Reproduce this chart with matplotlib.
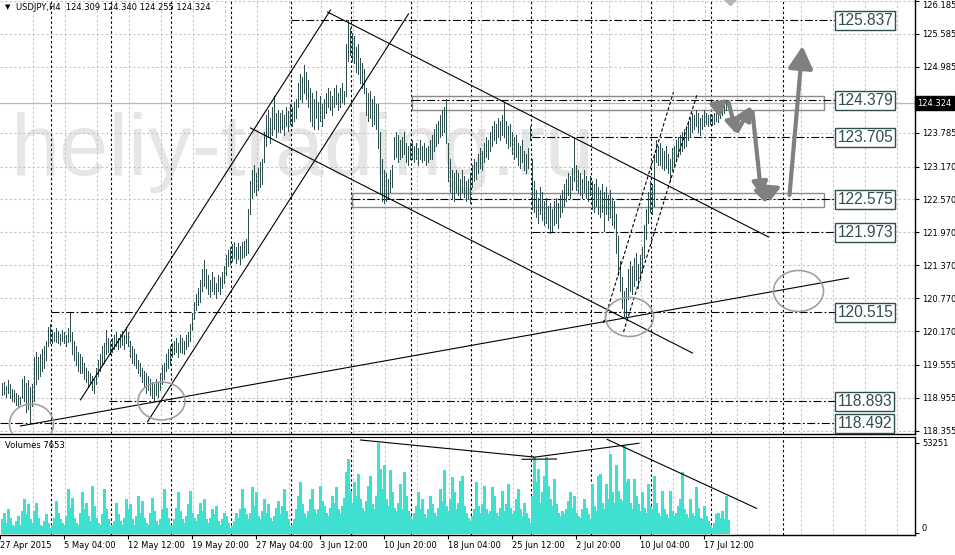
import matplotlib
matplotlib.use('Agg')
import matplotlib.pyplot as plt
from matplotlib.patches import Ellipse, Rectangle
from matplotlib.transforms import blended_transform_factory

# ---------------- data (H4 bars, weekly chunks) ----------------
h0 = [119.22,119.25,119.18,119.28,119.20,119.12,119.10,119.05,119.00,118.98,119.30,119.35,119.22,119.28,119.15,119.20,119.70,119.80,119.70,119.75,119.85,119.90,120.00,120.25,120.30]
l0 = [119.00,119.02,118.98,119.05,118.95,118.90,118.88,118.82,118.80,118.85,118.95,118.90,118.70,118.75,118.50,118.80,118.90,119.20,119.30,119.35,119.45,119.50,119.65,119.90,119.95]
h1 = [120.20,120.15,120.22,120.18,120.12,120.20,120.15,120.10,120.22,120.50,120.15,120.00,119.90,119.80,119.75,119.70,119.60,119.50,119.45,119.40,119.35,119.30,119.50,119.65,119.75,119.90,119.95,120.20,120.05,120.00]
l1 = [119.95,120.00,119.98,119.95,119.92,120.00,119.95,119.90,119.98,120.00,119.75,119.65,119.55,119.45,119.40,119.40,119.30,119.25,119.15,119.20,119.10,119.05,119.20,119.35,119.45,119.55,119.60,119.75,119.80,119.75]
h2 = [120.05,120.10,120.15,120.05,120.12,120.18,120.10,120.25,120.15,120.00,119.90,119.85,119.75,119.65,119.60,119.50,119.45,119.40,119.35,119.30,119.25,119.20,119.30,119.25,119.40,119.55,119.60,119.75,119.85,119.90]
l2 = [119.80,119.85,119.90,119.85,119.88,119.92,119.85,119.95,119.90,119.70,119.60,119.55,119.50,119.40,119.35,119.25,119.15,119.05,119.10,119.00,118.95,118.90,119.00,118.98,119.10,119.20,119.30,119.45,119.50,119.55]
h3 = [119.95,120.00,120.05,119.95,120.10,120.05,120.00,120.10,120.15,120.30,120.50,120.70,120.85,120.95,121.10,121.30,121.47,121.30,121.20,121.10,121.25,121.15,121.05,121.20,121.15,121.25,121.35,121.55,121.65,121.70]
l3 = [119.70,119.75,119.80,119.70,119.80,119.78,119.75,119.85,119.90,120.00,120.20,120.40,120.55,120.65,120.70,120.90,121.00,120.95,120.85,120.80,120.90,120.85,120.78,120.90,120.85,120.95,121.05,121.20,121.35,121.40]
h4 = [121.75,121.80,121.70,121.78,121.72,121.80,121.82,121.85,122.40,122.90,123.10,123.20,123.05,123.15,123.25,123.30,123.80,124.10,124.20,124.05,124.25,124.45,124.15,124.20,124.15,124.20,124.10,124.25,124.18,124.30]
l4 = [121.45,121.50,121.42,121.48,121.40,121.50,121.52,121.55,121.60,122.30,122.60,122.70,122.65,122.75,122.80,122.85,123.25,123.55,123.70,123.60,123.75,123.85,123.70,123.80,123.80,123.85,123.75,123.90,123.82,123.95]
h5 = [124.25,124.35,124.40,124.70,124.85,124.80,125.02,124.90,124.75,124.60,124.50,124.40,124.55,124.35,124.45,124.30,124.40,124.50,124.60,124.55,124.45,124.60,124.65,124.50,124.60,124.70,124.55,125.40,125.84,125.70]
l5 = [123.90,124.00,124.05,124.25,124.40,124.35,124.50,124.40,124.25,124.00,123.90,123.85,124.05,123.85,124.00,123.90,124.05,124.15,124.25,124.20,124.10,124.25,124.30,124.20,124.25,124.35,124.30,124.45,125.10,125.20]
h6 = [125.60,125.55,125.35,125.40,125.15,125.05,124.95,124.60,124.50,124.55,124.40,124.45,124.30,124.30,123.80,123.30,123.10,123.05,122.95,123.10,123.20,123.70,123.80,123.75,123.65,123.70,123.80,123.60,123.55,123.60]
l6 = [125.10,125.05,124.90,124.85,124.70,124.60,124.50,124.10,124.00,124.05,123.90,123.95,123.85,123.50,122.70,122.55,122.50,122.55,122.60,122.70,122.80,123.30,123.35,123.25,123.30,123.35,123.40,123.25,123.20,123.30]
h7 = [123.65,123.55,123.60,123.50,123.65,123.55,123.60,123.50,123.55,123.65,123.75,123.85,123.95,124.00,124.10,124.20,124.25,124.40,123.60,123.30,123.10,123.05,123.10,123.05,122.95,123.10,123.00,122.90,122.95,123.05]
l7 = [123.30,123.25,123.30,123.20,123.30,123.25,123.28,123.20,123.25,123.30,123.30,123.45,123.55,123.60,123.70,123.75,123.80,123.60,122.90,122.70,122.60,122.55,122.70,122.65,122.60,122.70,122.62,122.55,122.58,122.50]
h8 = [123.20,123.30,123.25,123.40,123.50,123.45,123.60,123.70,123.65,123.80,123.90,124.00,123.95,124.05,124.00,124.10,124.35,124.00,123.90,123.95,123.80,123.70,123.75,123.60,123.55,123.65,123.45,123.40,123.50,123.90]
l8 = [122.80,122.90,122.95,123.05,123.15,123.10,123.25,123.35,123.30,123.45,123.55,123.65,123.60,123.70,123.65,123.75,123.70,123.60,123.50,123.55,123.40,123.30,123.35,123.20,123.15,123.25,123.10,123.05,123.15,123.65]
h9 = [123.30,122.90,122.75,122.60,122.80,122.70,122.55,122.60,122.45,122.50,122.40,122.55,122.60,122.50,122.65,122.75,122.85,122.95,123.05,123.00,123.15,123.70,123.20,123.10,123.05,122.95,123.10,123.00,122.90,123.00]
l9 = [122.40,122.35,122.25,122.15,122.30,122.20,122.10,122.15,122.05,121.95,122.00,122.10,122.15,122.05,122.25,122.35,122.45,122.55,122.65,122.60,122.75,122.90,122.75,122.70,122.65,122.60,122.70,122.60,122.55,122.65]
h10 = [122.90,122.85,122.95,122.80,122.75,122.85,122.70,122.80,122.65,122.75,122.60,122.55,122.30,121.90,121.45,121.15,120.90,120.95,121.30,121.45,121.35,121.50,121.60,121.40,121.55,121.70,122.10,122.40,122.70,122.90]
l10 = [122.40,122.35,122.45,122.30,122.25,122.35,122.00,122.30,122.20,122.25,122.10,122.05,121.60,121.20,120.90,120.60,120.45,120.42,120.75,120.90,120.85,121.00,121.10,120.95,121.10,121.25,121.50,121.85,122.15,122.35]
h11 = [122.85,123.40,123.65,123.55,123.60,123.50,123.45,123.55,123.40,123.30,123.50,123.55,123.65,123.70,123.75,123.80,123.85,123.90,124.00,124.05,124.15,124.10,124.20,124.15,124.05,124.10,124.20,124.15,124.10,124.12]
l11 = [122.30,122.45,123.25,123.20,123.20,123.15,123.10,123.15,123.05,122.90,123.10,123.20,123.30,123.35,123.40,123.45,123.50,123.55,123.65,123.70,123.80,123.85,123.90,123.80,123.75,123.85,123.90,123.95,123.90,123.95]
h12 = [124.10,124.15,124.20,124.12,124.25,124.30,124.35,124.38,124.34]
l12 = [123.92,123.95,124.00,123.98,124.05,124.10,124.15,124.20,124.255]

# volumes in thousands
v0 = [8,12,6,14,9,5,4,7,10,5,13,20,11,17,8,6,13,18,9,5,4,7,11,6,3]
v1 = [5,9,19,12,8,6,5,10,26,15,21,9,6,5,12,24,14,18,10,7,28,16,9,6,5,11,26,14,8,4]
v2 = [5,7,18,11,7,5,9,20,14,17,8,5,10,22,12,19,9,6,5,12,21,13,7,5,8,14,26,15,9,5]
v3 = [5,8,15,24,13,8,6,10,17,25,12,9,7,11,18,13,20,8,6,9,14,11,16,7,5,8,12,10,6,3]
v4 = [4,7,12,9,14,26,15,11,8,12,27,16,24,10,8,13,20,12,17,9,7,10,15,19,11,16,26,13,8,4]
v5 = [5,8,14,22,30,17,12,9,13,20,26,14,11,14,28,19,16,12,10,15,22,18,27,14,11,16,21,36,44,25]
v6 = [18,30,22,35,20,15,13,19,28,34,17,14,22,53.251,38,26,40,20,16,37,24,15,13,18,29,14,36,22,13,10]
v7 = [8,12,16,24,14,20,11,9,14,22,17,12,10,15,26,19,37,16,13,20,33,24,14,18,31,34,16,12,9,7]
v8 = [10,14,30,16,12,17,28,14,11,13,27,22,12,10,15,25,13,17,29,15,11,13,20,26,14,10,18,12,9,6]
v9 = [22,45,30,38,18,24,34,45,28,20,16,32,17,12,10,13,11,14,19,24,15,22,12,10,9,14,20,15,11,8]
v10 = [29,16,13,34,35,18,14,29,20,47,24,18,40,25,20,19,52.1,30,32,18,14,32,22,17,13,24,15,12,29,16]
v11 = [14,34,18,12,10,25,14,11,9,25,13,10,12,16,20,36,14,11,9,20,12,10,27,15,9,8,16,10,7,5]
v12 = [3,6,11,12,9,13,8,22,7.653]

date_labels = ['27 Apr 2015', '5 May 04:00', '12 May 12:00', '19 May 20:00', '27 May 04:00',
               '3 Jun 12:00', '10 Jun 20:00', '18 Jun 04:00', '25 Jun 12:00', '2 Jul 20:00',
               '10 Jul 04:00', '17 Jul 12:00']
price_ticks = [126.185, 125.585, 124.985, 123.785, 123.170, 122.570, 121.970, 121.370,
               120.770, 120.170, 119.555, 118.955, 118.355]
levels = [125.837, 124.379, 123.705, 122.575, 121.973, 120.515, 118.893, 118.492]
level_start = [144.5, 205, 265, 175, 265, 24.5, 53.5, -0.75]
current_price = 124.324
header = 'USDJPY,H4  124.309 124.340 124.255 124.324'

trend_lines = [((39.5, 118.92), (164.5, 126.02)), ((73, 118.52), (203.5, 125.95)),
               ((163, 125.985), (383.5, 121.886)), ((124.5, 123.872), (345.5, 119.773)),
               ((9.5, 118.444), (423.5, 121.139))]
dashed_lines = [((301, 120.32), (336, 124.527)), ((311, 120.156), (348, 124.509))]
vol_lines = [((179.5, 55.03), (266, 44.97)), ((260.3, 43.6), (277.5, 43.8)),
             ((266, 44.8), (318.7, 53.1)), ((302.8, 55.4), (377.5, 14.6))]
ellipses = [(15, 118.48, 22, 0.729), (80, 118.899, 23.5, 0.692),
            (314, 120.429, 24, 0.710), (398.5, 120.903, 25, 0.747)]
rects = [(205, 411, 124.20, 124.455), (175, 411, 122.433, 122.688)]
arrows = [((357.5, 124.236), (363, 124.40)), ((363.5, 124.345), (367.5, 123.762)),
          ((368, 123.817), (375, 124.272)), ((375.5, 124.163), (380, 122.633)),
          ((380.5, 122.688), (385, 122.852)), ((385.5, 122.743), (390, 122.816)),
          ((394, 122.651), (400.5, 125.365))]

high = h0 + h1 + h2 + h3 + h4 + h5 + h6 + h7 + h8 + h9 + h10 + h11 + h12
low = l0 + l1 + l2 + l3 + l4 + l5 + l6 + l7 + l8 + l9 + l10 + l11 + l12
volume = v0 + v1 + v2 + v3 + v4 + v5 + v6 + v7 + v8 + v9 + v10 + v11 + v12
idx = list(range(len(high)))

# ---------------- figure ----------------
W, H = 955, 555
fig = plt.figure(figsize=(W / 100, H / 100), dpi=100)
fig.patch.set_facecolor('white')
ax = fig.add_axes([0, (H - 434) / H, 915 / W, 434 / H])
axv = fig.add_axes([0, 20 / H, 915 / W, 98 / H])

XL = (-0.75, 456.75)
for a in (ax, axv):
    a.set_xlim(*XL)
    for s in ('left', 'top'):
        a.spines[s].set_visible(False)
    a.spines['right'].set_linewidth(1)
    a.spines['bottom'].set_linewidth(1)
axv.spines['top'].set_visible(True)
ax.set_ylim(118.298, 126.203)
axv.set_ylim(-1.18, 56.80)

bar_col = '#2F4F4F'
grid_col = '#c4c4c4'
gdash = (0, (2.2, 2.2))
ddash = (0, (2.2, 2.2))
dashdot = (0, (7.2, 2.2, 1.6, 2.2))

# watermark
ax.text(11 / 915, 1 - 175 / 434, 'heliy-trading.ru', transform=ax.transAxes,
        fontsize=63.5, family='Liberation Sans', color='#e6e6e6',
        ha='left', va='baseline', zorder=0.5)

# grids
grid_x = [16 * k - 0.5 for k in range(1, 29)]
sep_x = [24.5 + 30 * k for k in range(12)] + [390.5]
for a in (ax, axv):
    for gx in grid_x:
        a.axvline(gx, color=grid_col, lw=0.75, ls=gdash, zorder=1)
    for sx in sep_x:
        a.axvline(sx, color='black', lw=0.8, ls=ddash, zorder=1.5)
for p in price_ticks:
    ax.axhline(p, color=grid_col, lw=0.75, ls=gdash, zorder=1)

# current price line
ax.axhline(current_price, color='#b8b8b8', lw=0.9, zorder=1.2)

# rectangles
for x0, x1, y0, y1 in rects:
    ax.add_patch(Rectangle((x0, y0), x1 - x0, y1 - y0, fill=False,
                           ec='#8a8a8a', lw=1.0, zorder=2))

# levels
for lv, st in zip(levels, level_start):
    ax.plot([st, 417.5], [lv, lv], color='black', lw=0.8, ls=dashdot, zorder=2)
    ax.text(418, lv, f'{lv:.3f}', fontsize=11.2, family='Liberation Sans',
            color='#2F4F4F', ha='left', va='center', zorder=6, clip_on=False,
            bbox=dict(boxstyle='square,pad=0.13', fc='white', ec='#2F4F4F', lw=1))

# price bars
ax.vlines(idx, low, high, color=bar_col, lw=0.55, zorder=3, antialiased=False)

# trend lines
for (x0, y0), (x1, y1) in trend_lines:
    ax.plot([x0, x1], [y0, y1], color='black', lw=0.8, zorder=4)
for (x0, y0), (x1, y1) in dashed_lines:
    ax.plot([x0, x1], [y0, y1], color='black', lw=0.8, ls=(0, (3, 2)), zorder=4)

# ellipses
for cx, cy, w, h in ellipses:
    ax.add_patch(Ellipse((cx, cy), w, h, fill=False, ec='#a0a0a0', lw=1.2, zorder=4))

# forecast arrows
for (x0, y0), (x1, y1) in arrows:
    big = (y1 - y0) > 2
    ax.annotate('', xy=(x1, y1), xytext=(x0, y0),
                arrowprops=dict(arrowstyle='-|>,head_length=0.9,head_width=0.5',
                                color='#808080', lw=3.0, shrinkA=0, shrinkB=0,
                                mutation_scale=15 if big else 9),
                zorder=5)
ax.plot([364], [126.24], marker='D', ms=7, color='#b4b4b4', zorder=5)

# header
ax.text(5 / 915, 1 - 7 / 434, '\u25bc', transform=ax.transAxes, fontsize=5,
        ha='left', va='center', color='black')
ax.text(16 / 915, 1 - 7 / 434, header, transform=ax.transAxes, fontsize=6,
        ha='left', va='center', color='black')

# right price axis
ax.yaxis.tick_right()
ax.set_yticks(price_ticks)
ax.set_yticklabels([f'{p:.3f}' for p in price_ticks])
ax.tick_params(axis='y', labelsize=6, length=3, pad=2, width=0.8)
for lab in ax.get_yticklabels():
    if lab.get_text() == '126.185':
        lab.set_verticalalignment('top')
ax.set_xticks([])
tr = blended_transform_factory(ax.transAxes, ax.transData)
ax.text(1 + 2 / 915, current_price, f'{current_price:.3f}', transform=tr,
        fontsize=6, color='white', ha='left', va='center', clip_on=False, zorder=7,
        bbox=dict(boxstyle='square,pad=0.3', fc='black', ec='black'))

# volume panel
axv.bar(idx, volume, width=1.0, color='#40E0D0', ec='#40E0D0', lw=0.4,
        zorder=3, antialiased=False)
for (x0, y0), (x1, y1) in vol_lines:
    axv.plot([x0, x1], [y0, y1], color='black', lw=0.8, zorder=4)
axv.text(5 / 915, 1 - 8 / 98, 'Volumes 7653', transform=axv.transAxes,
         fontsize=6, ha='left', va='center', color='black')
axv.yaxis.tick_right()
axv.set_yticks([0, 53.251])
axv.set_yticklabels(['0', '53251'])
axv.tick_params(axis='y', labelsize=6, length=3, pad=2, width=0.8)
for lab in axv.get_yticklabels():
    if lab.get_text() == '0':
        lab.set_verticalalignment('bottom')
date_pos = [32 * k - 0.75 for k in range(len(date_labels))]
axv.set_xticks(date_pos)
axv.set_xticklabels(date_labels, ha='left')
axv.tick_params(axis='x', labelsize=6, length=3, pad=1, width=0.8)

fig.savefig('out.png', dpi=100, facecolor='white')
